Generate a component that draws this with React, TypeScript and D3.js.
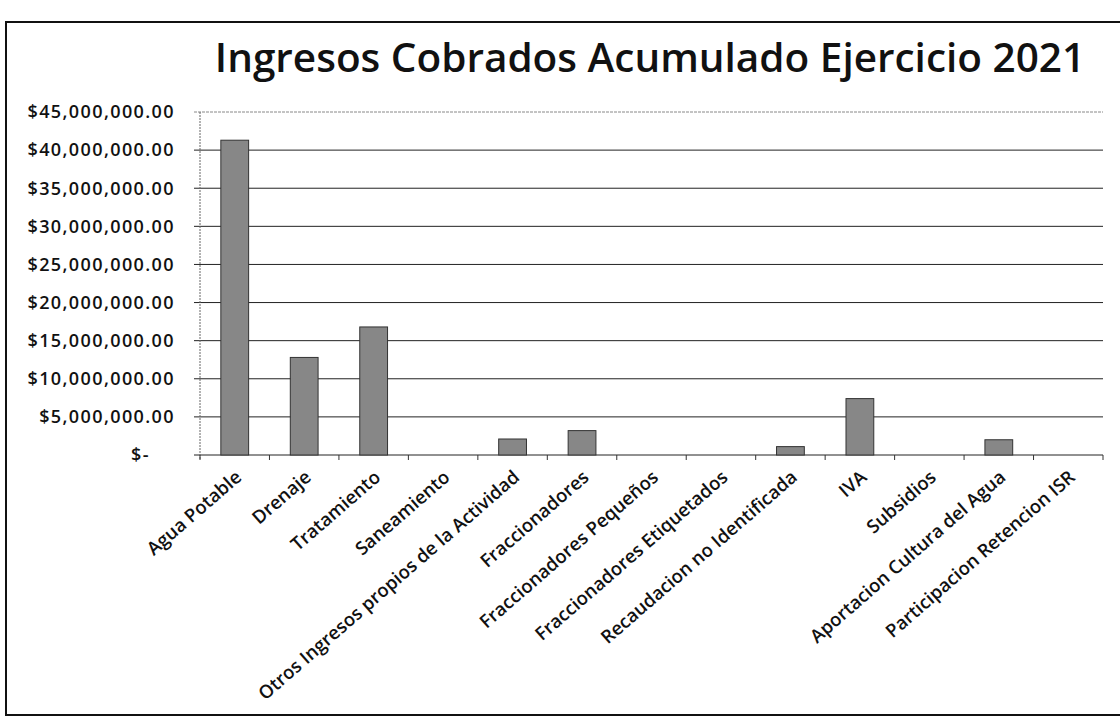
import React from 'react'
import * as d3 from 'd3'

const categories = [
  'Agua Potable',
  'Drenaje',
  'Tratamiento',
  'Saneamiento',
  'Otros Ingresos propios de la Actividad',
  'Fraccionadores',
  'Fraccionadores Pequeños',
  'Fraccionadores Etiquetados',
  'Recaudacion no Identificada',
  'IVA',
  'Subsidios',
  'Aportacion Cultura del Agua',
  'Participacion Retencion ISR',
]
const values = [
  41300000, 12800000, 16800000, 0, 2100000, 3200000, 0, 0, 1100000, 7400000, 0, 2000000, 0,
]
const yTicks = [0, 5000000, 10000000, 15000000, 20000000, 25000000, 30000000, 35000000, 40000000, 45000000]
const title = 'Ingresos Cobrados Acumulado Ejercicio 2021'

const W = 1120
const H = 717
const left = 200
const right = 1103
const top = 112
const bottom = 455
const font = "'Open Sans', 'Noto Sans', sans-serif"

function fmt(v: number) {
  if (v === 0) return '$-'
  return '$' + d3.format(',.2f')(v)
}

export default function App() {
  const x = d3
    .scaleBand()
    .domain(categories)
    .range([left, right])
    .paddingInner(0.6)
    .paddingOuter(0.3)
  const y = d3.scaleLinear().domain([0, 45000000]).range([bottom, top])
  const step = x.step()
  const bounds = d3.range(categories.length + 1).map(i => left + i * step)

  return (
    <svg width={W} height={H} style={{ position: 'absolute', left: 0, top: 0, background: '#fff' }}>
      <rect x={6} y={22} width={W + 10} height={693} fill="none" stroke="#111" strokeWidth={2} />
      <text x={650} y={72} textAnchor="middle" fontFamily={font} fontSize={40.5} fontWeight={600} fill="#111">
        {title}
      </text>

      {/* gridlines */}
      {yTicks.map(t => (
        <line
          key={t}
          x1={left - 6}
          x2={right}
          y1={y(t)}
          y2={y(t)}
          stroke={t === 45000000 ? '#888' : '#222'}
          strokeWidth={1}
          strokeDasharray={t === 45000000 ? '3,1' : undefined}
        />
      ))}
      <line x1={left} x2={left} y1={top} y2={bottom + 4} stroke="#666" strokeDasharray="2,1" />

      {/* y labels */}
      {yTicks.map(t => (
        <text
          key={'l' + t}
          x={t === 0 ? 150 : 175}
          y={y(t)}
          dy="0.35em"
          textAnchor="end"
          fontFamily={font}
          fontSize={18}
          fontWeight={600}
          letterSpacing={1.4}
          fill="#111"
        >
          {fmt(t)}
        </text>
      ))}

      {/* x ticks */}
      {bounds.map((b, i) => (
        <line key={'t' + i} x1={b} x2={b} y1={bottom} y2={bottom + 5} stroke="#333" />
      ))}

      {/* bars */}
      {categories.map((c, i) => (
        <rect
          key={c}
          x={x(c)}
          y={y(values[i])}
          width={x.bandwidth()}
          height={bottom - y(values[i])}
          fill="#878787"
          stroke="#333"
          strokeWidth={1}
        />
      ))}

      {/* category labels */}
      {categories.map(c => {
        const cx = (x(c) as number) + x.bandwidth() / 2 + 8
        const cy = bottom + 24
        return (
          <text
            key={'c' + c}
            transform={`translate(${cx},${cy}) rotate(-41)`}
            textAnchor="end"
            fontFamily={font}
            fontSize={18.5}
            fontWeight={600}
            fill="#111"
          >
            {c}
          </text>
        )
      })}
    </svg>
  )
}
